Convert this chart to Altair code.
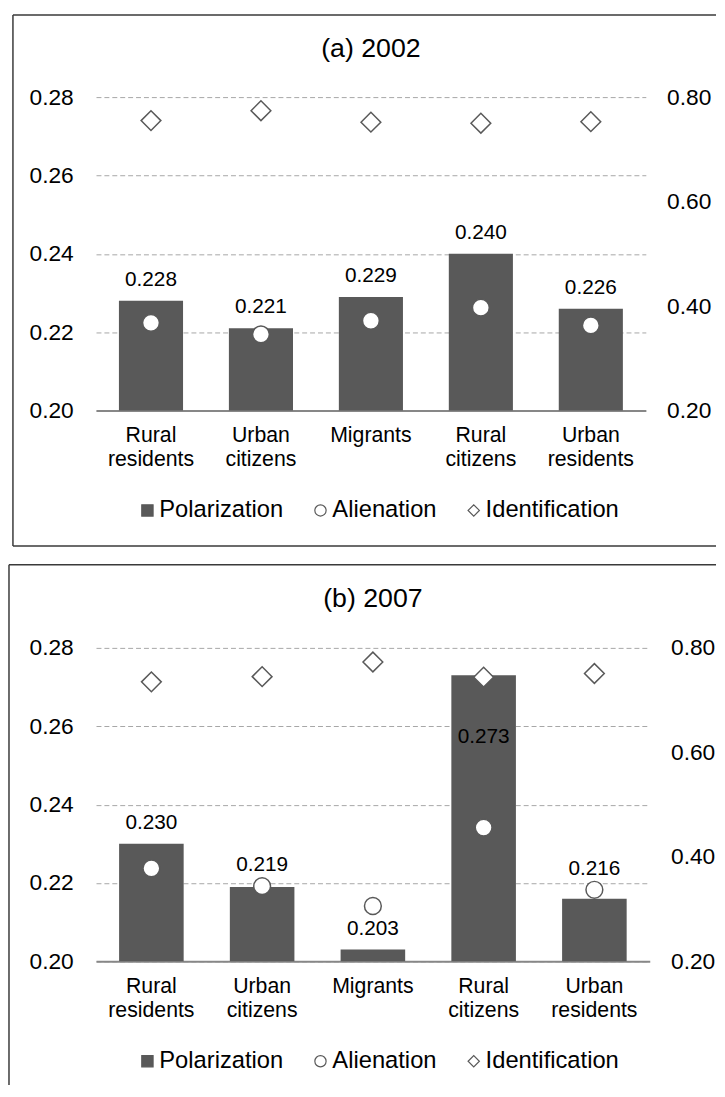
import altair as alt
import pandas as pd

categories = ["Rural residents", "Urban citizens", "Migrants", "Rural citizens", "Urban residents"]
series_names = ["Polarization", "Alienation", "Identification"]

polarization_2002 = [0.228, 0.221, 0.229, 0.240, 0.226]
alienation_2002 = [0.368, 0.346, 0.372, 0.397, 0.363]
identification_2002 = [0.755, 0.774, 0.752, 0.750, 0.753]

polarization_2007 = [0.230, 0.219, 0.203, 0.273, 0.216]
alienation_2007 = [0.378, 0.344, 0.306, 0.456, 0.337]
identification_2007 = [0.735, 0.745, 0.773, 0.744, 0.751]

left_ticks = [0.20, 0.22, 0.24, 0.26, 0.28]
right_ticks = [0.20, 0.40, 0.60, 0.80]

FONT = "Liberation Sans"
DARK = "#595959"
FRAME = "#3a3a3a"


def panel(title, pol, ali, ide, width, frame_left, frame_top, frame_right, frame_bottom, bottom_border):
    bar_df = pd.DataFrame({"category": categories, "series": ["Polarization"] * 5,
                           "value": pol, "alien": ali})
    circ_df = pd.DataFrame({"category": categories, "series": ["Alienation"] * 5, "value": ali})
    diam_df = pd.DataFrame({"category": categories, "series": ["Identification"] * 5, "value": ide})
    one = pd.DataFrame({"title": [title]})

    xenc = alt.X("category:N",
                 scale=alt.Scale(domain=categories, paddingInner=0.417, paddingOuter=0.2085),
                 axis=alt.Axis(title=None, labelAngle=0, labelExpr="split(datum.label, ' ')",
                               labelFont=FONT, labelFontSize=21.5, labelColor="black",
                               labelLineHeight=25, labelPadding=14, labelBaseline="top",
                               ticks=False, tickSize=0, domainColor="#878787", domainWidth=2,
                               labelOverlap=False, grid=False))
    yl_scale = alt.Scale(domain=[0.20, 0.28], nice=False, zero=False)
    yl_axis = alt.Axis(title=None, values=left_ticks, format=".2f", labelFont=FONT,
                       labelFontSize=23, labelColor="black", labelPadding=23, ticks=False,
                       tickSize=0, domain=False, grid=True, gridColor="#a6a6a6",
                       gridDash=[5, 3], gridWidth=1)
    yr_scale = alt.Scale(domain=[0.20, 0.80], nice=False, zero=False)
    yr_axis = alt.Axis(title=None, values=right_ticks, format=".2f", labelFont=FONT,
                       labelFontSize=23, labelColor="black", labelPadding=21, ticks=False,
                       tickSize=0, domain=False, grid=False, orient="right")

    legend = alt.Legend(title=None, orient="none", legendX=40, legendY=406,
                        direction="horizontal", labelFont=FONT, labelFontSize=24,
                        labelColor="black", symbolSize=130, labelOffset=0, columnPadding=25,
                        symbolOpacity=1, symbolStrokeWidth=1.2)
    color = alt.Color("series:N", scale=alt.Scale(domain=series_names,
                                                  range=[DARK, "white", "white"]), legend=legend)
    shape = alt.Shape("series:N", scale=alt.Scale(domain=series_names,
                                                  range=["square", "circle", "diamond"]), legend=legend)
    stroke = alt.Stroke("series:N", scale=alt.Scale(domain=series_names,
                                                    range=[DARK, DARK, DARK]), legend=legend)

    rules = []
    segs = [(frame_left, frame_right, frame_top, frame_top),
            (frame_left, frame_left, frame_top, frame_bottom)]
    if bottom_border:
        segs.append((frame_left, frame_right, frame_bottom, frame_bottom))
    for (xa, xb, ya, yb) in segs:
        rules.append(alt.Chart(one).mark_rule(color=FRAME, strokeWidth=1.5, clip=False).encode(
            x=alt.value(xa), x2=alt.value(xb), y=alt.value(ya), y2=alt.value(yb)))

    title_mark = alt.Chart(one).mark_text(font=FONT, fontSize=27, color="black",
                                          baseline="middle", align="center").encode(
        x=alt.value(width / 2), y=alt.value(-49), text="title:N")

    bars = alt.Chart(bar_df).mark_bar(opacity=1).encode(
        x=xenc, y=alt.Y("value:Q", scale=yl_scale, axis=yl_axis), y2=alt.datum(0.2), color=color)

    lab = alt.Chart(bar_df).transform_calculate(
        ali_left="0.2 + (datum.alien - 0.2) * 0.08 / 0.6",
        anchor="(datum.ali_left > datum.value - 0.003 && datum.ali_left < datum.value + 0.004) ? max(datum.value, datum.ali_left) : datum.value",
        label="format(datum.value, '.3f')")
    lab_out = lab.transform_filter("datum.value <= 0.265").mark_text(
        font=FONT, fontSize=21, color="black", baseline="middle", dy=-21).encode(
        x=xenc, y=alt.Y("anchor:Q", scale=yl_scale, axis=None), text="label:N")
    lab_in = lab.transform_filter("datum.value > 0.265").mark_text(
        font=FONT, fontSize=21, color="black", baseline="middle", dy=62).encode(
        x=xenc, y=alt.Y("value:Q", scale=yl_scale, axis=None), text="label:N")

    circles = alt.Chart(circ_df).mark_point(filled=True, opacity=1, strokeWidth=1.5,
                                            size=289).encode(
        x=xenc, y=alt.Y("value:Q", scale=yr_scale, axis=yr_axis), color=color, shape=shape,
        stroke=stroke)
    diamonds = alt.Chart(diam_df).mark_point(filled=True, opacity=1, strokeWidth=1.5,
                                             size=400).encode(
        x=xenc, y=alt.Y("value:Q", scale=yr_scale, axis=None), color=color, shape=shape,
        stroke=stroke)

    return alt.layer(*rules, title_mark, bars, lab_out, lab_in, circles, diamonds).resolve_scale(
        y="independent").properties(width=width, height=317)


top = panel("(a) 2002", polarization_2002, alienation_2002, identification_2002,
            556, -84, -83, 627, 454, True)
bottom = panel("(b) 2007", polarization_2007, alienation_2007, identification_2007,
               560, -88, -84, 627, 442, False)

chart = alt.vconcat(top, bottom, spacing=17).resolve_scale(
    color="independent", shape="independent", stroke="independent",
    x="independent", y="independent"
).resolve_legend(color="independent", shape="independent", stroke="independent").properties(
    padding=0, background="white"
).configure_view(stroke=None)

chart.save("out.html", embed_options={"renderer": "svg", "actions": False})
